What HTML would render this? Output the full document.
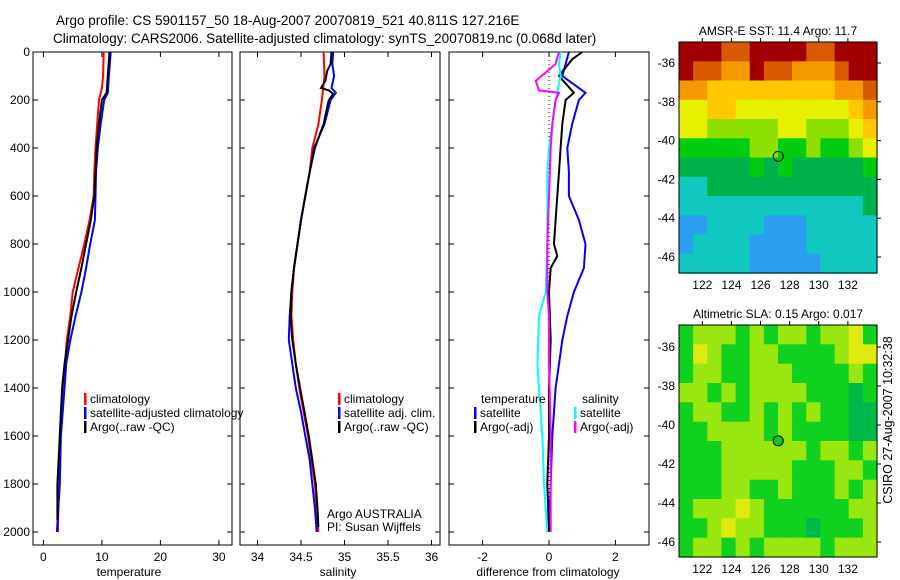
<!DOCTYPE html>
<html><head><meta charset="utf-8"><style>
body{margin:0;background:#fff;}
svg{display:block;font-family:"Liberation Sans",sans-serif;}
</style></head><body>
<svg id="fig" width="900" height="580" viewBox="0 0 900 580" xmlns="http://www.w3.org/2000/svg">
<text x="56" y="25" font-size="13.5">Argo profile: CS 5901157_50 18-Aug-2007 20070819_521 40.811S 127.216E</text>
<text x="53" y="43" font-size="13.5">Climatology: CARS2006. Satellite-adjusted climatology: synTS_20070819.nc (0.068d later)</text>
<g id="g"></g>
<text transform="translate(892,420) rotate(-90)" text-anchor="middle" font-size="12.5">CSIRO 27-Aug-2007 10:32:38</text>
</svg>
<script>
// ---------- data ----------
const depthT = [0,100,150,200,300,400,500,600,700,800,900,1000,1100,1200,1300,1400,1500,1600,1800,2000];
const tempClim = [10.3,10.2,10.0,9.5,9.2,8.9,8.7,8.6,7.9,7.0,6.0,5.0,4.6,4.0,3.7,3.3,3.0,2.8,2.6,2.5];
const depthTS = [0,100,170,200,300,400,500,600,700,800,900,1000,1100,1200,1300,1400,1600,1800,2000];
const tempSat = [11.5,11.2,11.0,10.4,9.8,9.3,9.0,8.9,8.8,8.0,7.3,6.5,5.5,4.6,3.9,3.6,3.0,2.8,2.3];
const depthTA = [0,100,170,200,300,400,500,600,700,800,900,1000,1100,1200,1300,1400,1600,1800,1950];
const tempArgo = [11.3,11.0,10.8,10.0,9.5,9.1,8.9,8.7,8.1,7.3,6.5,5.6,4.8,4.2,3.6,3.2,2.8,2.4,2.4];

const depthS = [0,100,200,300,400,500,600,700,800,900,1000,1100,1200,1300,1400,1500,1600,1700,1800,1900,2000];
const salClim = [34.76,34.77,34.74,34.70,34.63,34.60,34.55,34.50,34.46,34.42,34.40,34.39,34.41,34.44,34.48,34.53,34.58,34.62,34.66,34.68,34.70];
const depthSS = [0,50,100,150,170,200,300,400,500,600,700,800,900,1000,1100,1200,1300,1400,1500,1600,1700,1800,1900,2000];
const salSat = [34.87,34.86,34.88,34.85,34.90,34.84,34.77,34.65,34.60,34.55,34.50,34.46,34.42,34.39,34.37,34.36,34.40,34.44,34.50,34.55,34.60,34.63,34.66,34.68];
const depthSA = [0,50,80,120,150,160,175,200,300,400,500,600,700,800,900,1000,1100,1200,1300,1400,1500,1600,1700,1800,1900,1980];
const salArgo = [34.85,34.84,34.80,34.78,34.73,34.82,34.87,34.82,34.76,34.66,34.60,34.55,34.50,34.46,34.42,34.39,34.38,34.40,34.44,34.49,34.54,34.59,34.63,34.67,34.69,34.70];

const depthD1 = [0,50,100,170,200,300,400,500,600,700,800,900,1000,1100,1200,1300,1400,1600,1800,2000];
const diffTSat = [0.6,0.5,0.4,1.1,0.9,0.7,0.55,0.6,0.6,0.9,1.1,1.05,0.75,0.55,0.4,0.3,0.2,0.1,0.05,0.0];
const depthD2 = [0,30,100,170,200,300,400,500,600,700,800,850,900,1000,1200,1400,1600,1800,2000];
const diffTArgo = [1.0,0.7,0.3,0.75,0.5,0.4,0.35,0.3,0.25,0.2,0.15,0.25,0.05,0.0,0.05,0.0,0.0,-0.05,0.0];
const depthD3 = [0,50,100,200,300,400,500,700,800,1000,1100,1300,1400,1600,1800,2000];
const diffSSat = [0.35,0.3,0.35,0.2,0.1,0.0,-0.05,-0.05,-0.05,-0.1,-0.3,-0.35,-0.3,-0.2,-0.15,-0.05];
const depthD4 = [0,50,80,120,160,170,200,300,400,600,800,1000,1100,1300,1600,2000];
const diffSArgo = [0.3,0.2,-0.05,-0.4,-0.3,0.3,0.2,0.1,0.05,0.0,-0.05,-0.05,0.0,0.0,0.05,0.05];

const depthTicks = [0,200,400,600,800,1000,1200,1400,1600,1800,2000];
const tempTicks = [0,10,20,30];
const salTicks = [34,34.5,35,35.5,36];
const salTickLabels = ["34","34.5","35","35.5","36"];
const diffTicks = [-2,0,2];
const lonTicks = [122,124,126,128,130,132];
const latTicks = [-36,-38,-40,-42,-44,-46];

const sstRows = ["99988999988999","98877988777899","77666666666778","55665555555567","55444445544456","33333443343345","22222323222223","11222222222222","11111111111112","00111100011111","01111000011111","11111000001111"];
const slaRows = ["21112121121102","20122112222100","21122111222212","11212111122232","21122121212233","22111121222233","22211111121121","22211111222112","22211221222121","21110122222211","22101122232221","21121211112111"];
const sstColors = ["#2a9ff0","#10c8c0","#00b04a","#00cc10","#8ee000","#e6f000","#ffc800","#f49a00","#d85a00","#a00000"];
const slaColors = ["#e0ea10","#9ae610","#10d020","#00b848"];
const argoLon = 127.216, argoLat = -40.811;

// ---------- drawing ----------
const NS = "http://www.w3.org/2000/svg";
const g = document.getElementById("g");
function mk(tag, attrs, parent){const e=document.createElementNS(NS,tag);for(const k in attrs)e.setAttribute(k,attrs[k]);(parent||g).appendChild(e);return e;}
const yTop=52, yBot=545;
const yD = d => 52 + d*0.24;
const xT = v => 43.4 + v*5.85;
const xS = v => 257.5 + (v-34)*87;
const xDf = v => 549 + v*33.2;

function panel(name,x0,x1){
  const r=mk("rect",{x:x0,y:yTop,width:x1-x0,height:yBot-yTop,fill:"none",stroke:"#000","stroke-width":1});
  
  
}
function line(name,xs,ds,xf,color,w){
  const p=mk("polyline",{points:xs.map((v,i)=>xf(v).toFixed(1)+","+yD(ds[i]).toFixed(1)).join(" "),fill:"none",stroke:color,"stroke-width":w||2});
  
  
}
function txt(name,x,y,s,size,anchor){
  const t=mk("text",{x:x,y:y,"font-size":size||12,"text-anchor":anchor||"start"});
  t.textContent=s;
  
  
  return t;
}
function xticks(ticks,labels,xf){
  ticks.forEach((v,i)=>{const x=xf(v);
    mk("line",{x1:x,x2:x,y1:yBot,y2:yBot-5,stroke:"#000"});
    mk("line",{x1:x,x2:x,y1:yTop,y2:yTop+5,stroke:"#000"});
    txt("x-tick-label",x,yBot+16,labels[i],12,"middle");});
}
function yticks(x0,x1,label){
  depthTicks.forEach(d=>{const y=yD(d);
    mk("line",{x1:x0,x2:x0+5,y1:y,y2:y,stroke:"#000"});
    mk("line",{x1:x1,x2:x1-5,y1:y,y2:y,stroke:"#000"});
    if(label) txt("depth-tick-label",x0-3,y+4,String(d),12,"end");});
}
function legend(name,x,y,color,label){
  const b=mk("rect",{x:x,y:y-10,width:2.5,height:12,fill:color});
  
  
  txt(name,x+6,y,label,12);
}

panel("temperature-panel",33,232);
yticks(33,232,true);
xticks(tempTicks,tempTicks.map(String),xT);
line("temp-climatology",tempClim,depthT,xT,"#f00");
line("temp-satellite",tempSat,depthTS,xT,"#00f");
line("temp-argo",tempArgo,depthTA,xT,"#000");
txt("temperature-axis-title",129,576,"temperature",12,"middle");
legend("legend-climatology",84,403,"#f00","climatology");
legend("legend-satellite-adjusted",84,417,"#00f","satellite-adjusted climatology");
legend("legend-argo",84,431,"#000","Argo(..raw -QC)");

panel("salinity-panel",240,440);
yticks(240,440,false);
xticks(salTicks,salTickLabels,xS);
line("sal-climatology",salClim,depthS,xS,"#f00");
line("sal-satellite",salSat,depthSS,xS,"#00f");
line("sal-argo",salArgo,depthSA,xS,"#000");
txt("salinity-axis-title",338,576,"salinity",12,"middle");
legend("legend2-climatology",338,403,"#f00","climatology");
legend("legend2-satellite",338,417,"#00f","satellite adj. clim.");
legend("legend2-argo",338,431,"#000","Argo(..raw -QC)");
txt("argo-australia-label",327,518,"Argo AUSTRALIA",12);
txt("pi-label",327,531,"PI: Susan Wijffels",12);

panel("difference-panel",449,649);
yticks(449,649,false);
xticks(diffTicks,diffTicks.map(String),xDf);
const zl=mk("line",{x1:xDf(0),x2:xDf(0),y1:yD(0),y2:yD(2000),stroke:"#000","stroke-dasharray":"1,3"});


line("diff-temp-satellite",diffTSat,depthD1,xDf,"#00f");
line("diff-temp-argo",diffTArgo,depthD2,xDf,"#000");
line("diff-sal-satellite",diffSSat,depthD3,xDf,"#0ff");
line("diff-sal-argo",diffSArgo,depthD4,xDf,"#f0f");
txt("difference-axis-title",548,576,"difference from climatology",12,"middle");
txt("legend3-temperature-heading",481,403,"temperature",12);
txt("legend3-salinity-heading",582,403,"salinity",12);
legend("legend3-temp-satellite",474,417,"#00f","satellite");
legend("legend3-temp-argo",474,431,"#000","Argo(-adj)");
legend("legend3-sal-satellite",574,417,"#0ff","satellite");
legend("legend3-sal-argo",574,431,"#f0f","Argo(-adj)");

function map(name,title,rows,colors,x0,x1,y0,y1,lat36,lat46,dotFill){
  const lon0=120.4, lon1=134.0;
  const xL = v => x0 + (v-lon0)/(lon1-lon0)*(x1-x0);
  const yL = v => lat36 + (v+36)/(-10)*(lat46-lat36);
  const nr=rows.length, nc=rows[0].length;
  const cw=(x1-x0)/nc, ch=(y1-y0)/nr;
  const grp=mk("g",{});
  
  
  rows.forEach((row,i)=>{[...row].forEach((c,j)=>{
    const r=mk("rect",{x:(x0+j*cw).toFixed(1),y:(y0+i*ch).toFixed(1),width:(cw+0.6).toFixed(1),height:(ch+0.6).toFixed(1),fill:colors[+c]},grp);
    
    
  });});
  const fr=mk("rect",{x:x0,y:y0,width:x1-x0,height:y1-y0,fill:"none",stroke:"#000"});
  
  
  txt(name+"-title",(x0+x1)/2,y0-7,title,12,"middle");
  lonTicks.forEach(v=>{const x=xL(v);
    mk("line",{x1:x,x2:x,y1:y0,y2:y0-4,stroke:"#000"});
    txt("lon-tick-label",x,y1+16,String(v),12,"middle");});
  latTicks.forEach(v=>{const y=yL(v);
    mk("line",{x1:x1,x2:x1+4,y1:y,y2:y,stroke:"#000"});
    txt("lat-tick-label",x0-4,y+4,String(v),12,"end");});
  const dot=mk("circle",{cx:xL(argoLon),cy:yL(argoLat),r:5,fill:dotFill,stroke:"#000"});
  
  
}
map("sst-map","AMSR-E SST: 11.4  Argo: 11.7",sstRows,sstColors,679,877,42,273,63,257,"none");
map("sla-map","Altimetric SLA: 0.15  Argo: 0.017",slaRows,slaColors,679,877,325,557,347,542,"#10c820");
</script>
</body></html>
